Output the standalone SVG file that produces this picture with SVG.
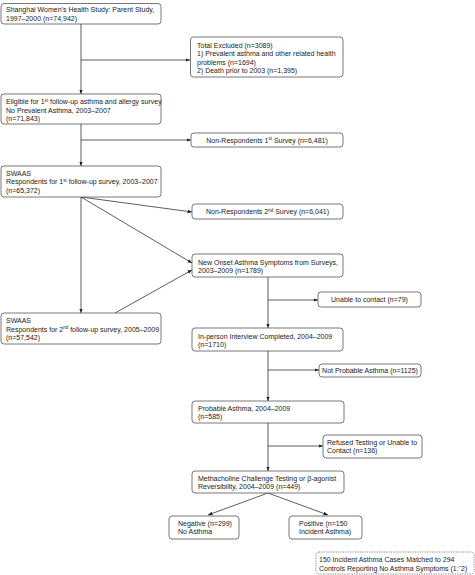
<svg xmlns="http://www.w3.org/2000/svg" width="475" height="575" viewBox="0 0 475 575">
<style>
text{font-family:"Liberation Sans",Arial,sans-serif;font-size:7px;fill:#222}
.b{fill:#fff;stroke:#555;stroke-width:0.8}
.d{fill:#fff;stroke:#666;stroke-width:0.8;stroke-dasharray:1.2 1.2}
.c line,.c path{stroke:#333;stroke-width:0.8;fill:none}
.m{text-anchor:middle}
.s{font-size:4.5px}
</style>
<defs>
<marker id="a" viewBox="0 0 10 10" refX="10" refY="5" markerWidth="4.5" markerHeight="4.5" orient="auto" markerUnits="userSpaceOnUse">
<path d="M0,1 L10,5 L0,9 Z" fill="#222"/>
</marker>
</defs>
<rect width="475" height="575" fill="#fff"/>
<g class="c">
<line x1="81" y1="24" x2="81" y2="94" marker-end="url(#a)"/>
<line x1="81" y1="60" x2="190" y2="60" marker-end="url(#a)"/>
<line x1="81" y1="124" x2="81" y2="166" marker-end="url(#a)"/>
<line x1="81" y1="140" x2="191" y2="140" marker-end="url(#a)"/>
<line x1="81" y1="197" x2="81" y2="313" marker-end="url(#a)"/>
<line x1="81" y1="197" x2="192" y2="212" marker-end="url(#a)"/>
<line x1="81" y1="197" x2="192" y2="263" marker-end="url(#a)"/>
<line x1="115" y1="313" x2="192" y2="270" marker-end="url(#a)"/>
<line x1="268" y1="277" x2="268" y2="328" marker-end="url(#a)"/>
<line x1="268" y1="300" x2="318" y2="300" marker-end="url(#a)"/>
<line x1="268" y1="351" x2="268" y2="401" marker-end="url(#a)"/>
<line x1="268" y1="370" x2="319" y2="370" marker-end="url(#a)"/>
<line x1="268" y1="423" x2="268" y2="471" marker-end="url(#a)"/>
<line x1="268" y1="446" x2="323" y2="446" marker-end="url(#a)"/>
<line x1="268" y1="493" x2="208" y2="515" marker-end="url(#a)"/>
<line x1="268" y1="493" x2="328" y2="515" marker-end="url(#a)"/>
</g>
<g id="parent"><rect class="b" x="1" y="3.5" width="160" height="20.5" rx="3"/>
<text x="6" y="12">Shanghai Women’s Health Study: Parent Study,</text>
<text x="6" y="20.5">1997–2000 (n=74,942)</text></g>
<g id="excluded"><rect class="b" x="190.5" y="37" width="152.5" height="40" rx="3"/>
<text x="197" y="47.5">Total Excluded (n=3089)</text>
<text x="197" y="56">1) Prevalent asthma and other related health</text>
<text x="197" y="64.5">problems (n=1694)</text>
<text x="197" y="73">2) Death prior to 2003 (n=1,395)</text></g>
<g id="eligible"><rect class="b" x="1" y="94" width="160" height="30" rx="3"/>
<text x="6" y="104">Eligible for 1<tspan class="s" dy="-2.5">st</tspan><tspan dy="2.5"> follow-up asthma and allergy survey</tspan></text>
<text x="6" y="112.5">No Prevalent Asthma, 2003–2007</text>
<text x="6" y="121">(n=71,843)</text></g>
<g id="nonresp1"><rect class="b" x="191" y="133" width="152" height="14" rx="3"/>
<text class="m" x="267" y="142.5">Non-Respondents 1<tspan class="s" dy="-2.5">st</tspan><tspan dy="2.5"> Survey (n=6,481)</tspan></text></g>
<g id="swaas1"><rect class="b" x="1" y="166" width="160" height="31" rx="3"/>
<text x="6" y="175.5">SWAAS</text>
<text x="6" y="184">Respondents for 1<tspan class="s" dy="-2.5">st</tspan><tspan dy="2.5"> follow-up survey, 2003–2007</tspan></text>
<text x="6" y="192.5">(n=65,372)</text></g>
<g id="nonresp2"><rect class="b" x="192" y="204" width="151" height="15" rx="3"/>
<text class="m" x="267.5" y="214">Non-Respondents 2<tspan class="s" dy="-2.5">nd</tspan><tspan dy="2.5"> Survey (n=6,041)</tspan></text></g>
<g id="newonset"><rect class="b" x="192" y="254" width="151" height="23" rx="3"/>
<text x="198" y="264.5">New Onset Asthma Symptoms from Surveys,</text>
<text x="198" y="273">2003–2009 (n=1789)</text></g>
<g id="swaas2"><rect class="b" x="1" y="313" width="160" height="31" rx="3"/>
<text x="6" y="323">SWAAS</text>
<text x="6" y="331.5">Respondents for 2<tspan class="s" dy="-2.5">nd</tspan><tspan dy="2.5"> follow-up survey, 2005–2009</tspan></text>
<text x="6" y="340">(n=57,542)</text></g>
<g id="unable"><rect class="b" x="318" y="292" width="103" height="15" rx="3"/>
<text class="m" x="369.5" y="302">Unable to contact (n=79)</text></g>
<g id="interview"><rect class="b" x="192" y="328" width="151" height="23" rx="3"/>
<text x="198" y="338.5">In-person Interview Completed, 2004–2009</text>
<text x="198" y="347">(n=1710)</text></g>
<g id="notprobable"><rect class="b" x="319" y="364" width="102" height="13" rx="3"/>
<text class="m" x="370" y="373">Not Probable Asthma (n=1125)</text></g>
<g id="probable"><rect class="b" x="192" y="401" width="152" height="22" rx="3"/>
<text x="198" y="410.5">Probable Asthma, 2004–2009</text>
<text x="198" y="419">(n=585)</text></g>
<g id="refused"><rect class="b" x="323" y="435" width="99" height="23" rx="3"/>
<text x="327" y="444.5">Refused Testing or Unable to</text>
<text x="327" y="453">Contact (n=136)</text></g>
<g id="methacholine"><rect class="b" x="192" y="471" width="152" height="22" rx="3"/>
<text x="198" y="480.5">Methacholine Challenge Testing or β-agonist</text>
<text x="198" y="489">Reversibility, 2004–2009 (n=449)</text></g>
<g id="negative"><rect class="b" x="169" y="516" width="70" height="23" rx="3"/>
<text x="178" y="525.5">Negative (n=299)</text>
<text x="178" y="534">No Asthma</text></g>
<g id="positive"><rect class="b" x="289" y="516" width="73" height="23" rx="3"/>
<text x="299" y="525.5">Positive (n=150</text>
<text x="299" y="534">Incident Asthma)</text></g>
<g id="matched"><rect class="d" x="316" y="552" width="158" height="22" rx="3"/>
<text x="319" y="562">150 Incident Asthma Cases Matched to 294</text>
<text x="319" y="570.5">Controls Reporting No Asthma Symptoms (1:˜2)</text></g>
</svg>
